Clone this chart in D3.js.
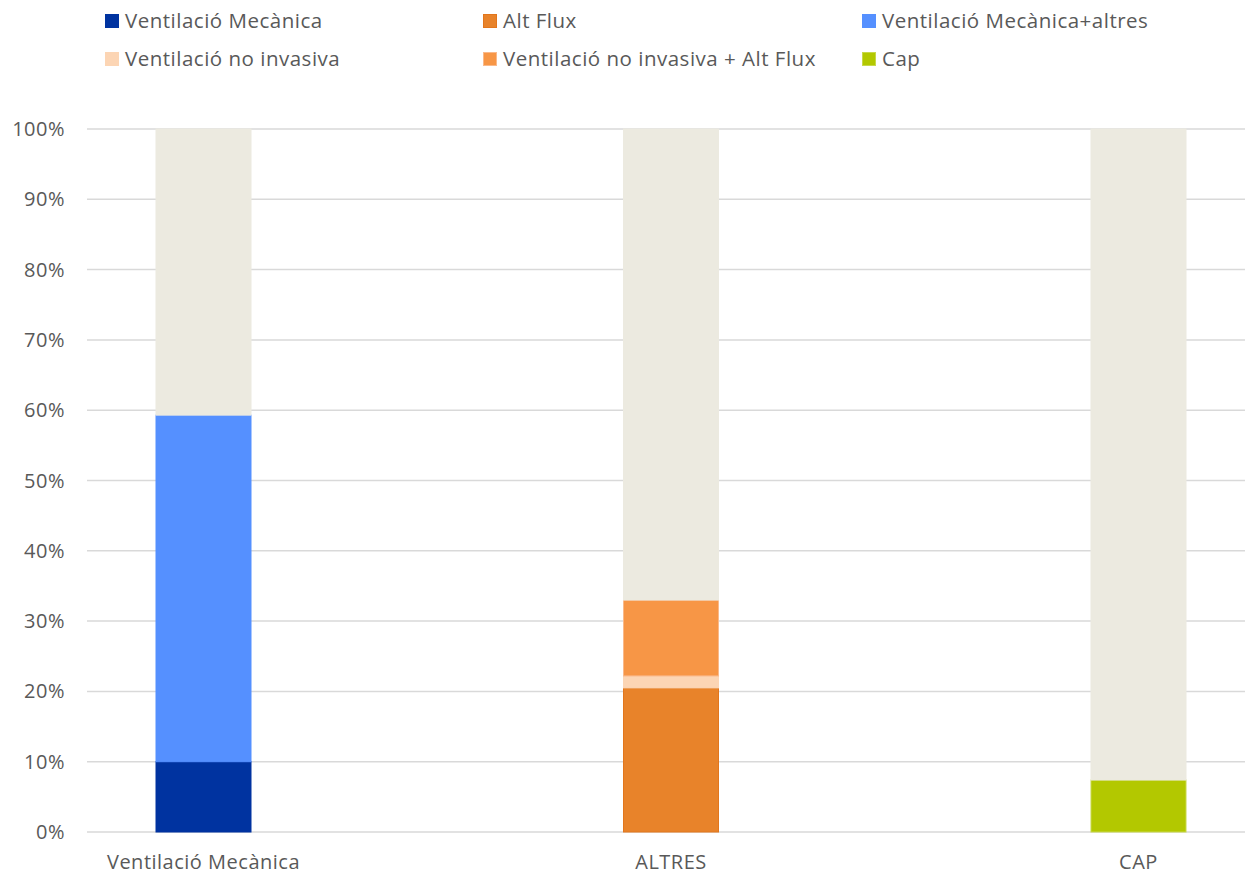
<!DOCTYPE html>
<html>
<head>
<meta charset="utf-8">
<script src="https://cdn.jsdelivr.net/npm/d3@7"></script>
<style>
  body { margin: 0; background: #fff; }
  text { font-family: "Open Sans", Lato, sans-serif; fill: #595959; letter-spacing: 0.5px; }
</style>
</head>
<body>
<div id="chart"></div>
<script>
// categories and series (percent of each category)
const categories = ["Ventilació Mecànica", "ALTRES", "CAP"];
const seriesNames = ["Ventilació Mecànica", "Alt Flux", "Ventilació Mecànica+altres",
                     "Ventilació no invasiva", "Ventilació no invasiva + Alt Flux", "Cap"];
const vmecanica  = [10, 0, 0];
const altFlux    = [0, 20.5, 0];
const vmAltres   = [49.3, 0, 0];
const vni        = [0, 1.7, 0];
const vniAltFlux = [0, 10.8, 0];
const cap        = [0, 0, 7.4];
const yTicks = [0, 10, 20, 30, 40, 50, 60, 70, 80, 90, 100];

const colors = ["#0033A0", "#E8832A", "#5590FF", "#FCD5B4", "#F79646", "#B3C800"];
const strokes = ["#0033A0", "#E2761C", "#5590FF", "#FCD5B4", "#FAB98A", "#C8D84A"];
const restColor = "#ECEAE0";

const width = 1245, height = 874;
const svg = d3.select("#chart").append("svg")
  .attr("width", width).attr("height", height);

const values = [vmecanica, altFlux, vmAltres, vni, vniAltFlux, cap];
const stackOrder = [0, 2, 1, 3, 4, 5];

const rows = categories.map(function(c, i) {
  const r = { key: c };
  seriesNames.forEach(function(s, j) { r[s] = values[j][i]; });
  r.rest = 100 - d3.sum(values, function(v) { return v[i]; });
  return r;
});

const keys = stackOrder.map(function(j) { return seriesNames[j]; }).concat(["rest"]);
const stacked = d3.stack().keys(keys)(rows);

const x = d3.scalePoint().domain(categories).range([203.5, 1138.5]);
const y = d3.scaleLinear().domain([0, 100]).range([832, 129]);
const barW = 95;

// gridlines
svg.append("g")
  .selectAll("line")
  .data(yTicks)
  .enter().append("line")
  .attr("x1", 87).attr("x2", 1245)
  .attr("y1", function(d) { return y(d); })
  .attr("y2", function(d) { return y(d); })
  .attr("stroke", "#D9D9D9")
  .attr("stroke-width", 1.5);

// y labels
svg.append("g")
  .selectAll("text")
  .data(yTicks)
  .enter().append("text")
  .attr("x", 65)
  .attr("y", function(d) { return y(d); })
  .attr("dy", "0.35em")
  .attr("text-anchor", "end")
  .attr("font-size", 20)
  .text(function(d) { return d + "%"; });

// bars
svg.append("g")
  .selectAll("g")
  .data(stacked)
  .enter().append("g")
  .each(function(layer) {
    const idx = seriesNames.indexOf(layer.key);
    const fill = idx < 0 ? restColor : colors[idx];
    const stroke = idx < 0 ? restColor : strokes[idx];
    d3.select(this).selectAll("rect")
      .data(layer.filter(function(d) { return d[1] - d[0] > 0; }))
      .enter().append("rect")
      .attr("x", function(d) { return x(d.data.key) - barW / 2; })
      .attr("y", function(d) { return y(d[1]); })
      .attr("width", barW)
      .attr("height", function(d) { return y(d[0]) - y(d[1]); })
      .attr("fill", fill)
      .attr("stroke", stroke)
      .attr("stroke-width", 1);
  });

// category labels
svg.append("g")
  .selectAll("text")
  .data(categories)
  .enter().append("text")
  .attr("x", function(d) { return x(d); })
  .attr("y", 869)
  .attr("text-anchor", "middle")
  .attr("font-size", 20)
  .text(function(d) { return d; });

// legend
const legendX = [105, 483, 862];
const legendY = [21, 59];
const legend = svg.append("g")
  .selectAll("g")
  .data(seriesNames)
  .enter().append("g")
  .attr("transform", function(d, i) {
    return "translate(" + legendX[i % 3] + "," + legendY[Math.floor(i / 3)] + ")";
  });

legend.append("rect")
  .attr("x", 0.5).attr("y", -6.5)
  .attr("width", 13).attr("height", 13)
  .attr("fill", function(d, i) { return colors[i]; })
  .attr("stroke", function(d, i) { return strokes[i]; });

legend.append("text")
  .attr("x", 20)
  .attr("y", 0)
  .attr("dy", "0.35em")
  .attr("font-size", 20.5)
  .text(function(d) { return d; });
</script>
</body>
</html>
